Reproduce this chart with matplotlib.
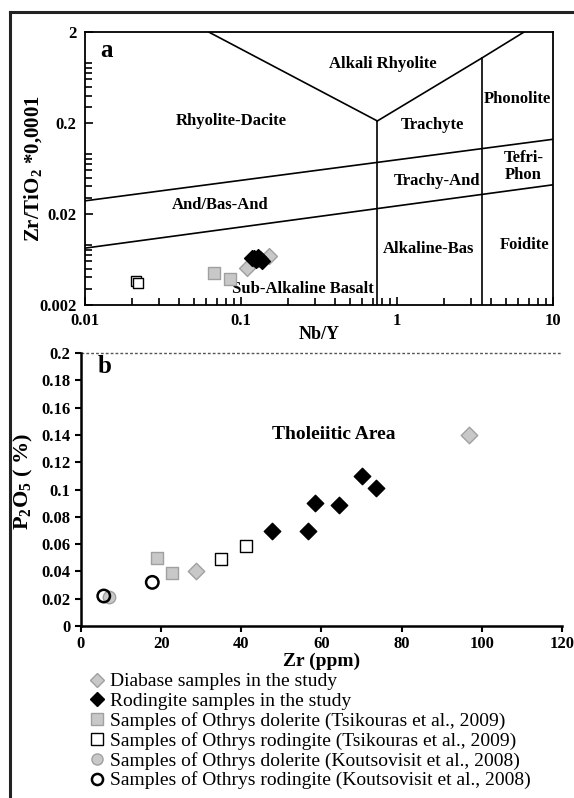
import matplotlib.pyplot as plt
import numpy as np
from matplotlib.lines import Line2D
from matplotlib.ticker import LogLocator, NullFormatter

plt.rcParams['font.family'] = ['Liberation Serif', 'DejaVu Serif']
plt.rcParams['mathtext.fontset'] = 'custom'
plt.rcParams['mathtext.rm'] = 'Liberation Serif'
plt.rcParams['mathtext.bf'] = 'Liberation Serif:bold'

# panel a : Nb/Y vs Zr/TiO2*0.0001
a_dia_x = [0.109, 0.151]
a_dia_y = [0.00506, 0.00691]
a_rod_x = [0.121, 0.129, 0.136, 0.125, 0.132, 0.118, 0.127]
a_rod_y = [0.00652, 0.00668, 0.00608, 0.00625, 0.00640, 0.00660, 0.00645]
a_tdol_x = [0.0674, 0.0846]
a_tdol_y = [0.00453, 0.00389]
a_trod_x = [0.0211, 0.0218]
a_trod_y = [0.00367, 0.00350]

# panel b : Zr vs P2O5
b_dia_x = [28.7, 96.9]
b_dia_y = [0.040, 0.140]
b_rod_x = [47.6, 56.6, 58.5, 64.5, 70.0, 73.6]
b_rod_y = [0.070, 0.070, 0.090, 0.089, 0.110, 0.101]
b_tdol_x = [19.0, 22.7]
b_tdol_y = [0.050, 0.039]
b_trod_x = [34.9, 41.2]
b_trod_y = [0.049, 0.059]
b_kdol_x = [7.1]
b_kdol_y = [0.021]
b_krod_x = [5.7, 17.8]
b_krod_y = [0.022, 0.032]

legend_labels = ['Diabase samples in the study',
                 'Rodingite samples in the study',
                 'Samples of Othrys dolerite (Tsikouras et al., 2009)',
                 'Samples of Othrys rodingite (Tsikouras et al., 2009)',
                 'Samples of Othrys dolerite (Koutsovisit et al., 2008)',
                 'Samples of Othrys rodingite (Koutsovisit et al., 2008)']

# field boundaries (Winchester & Floyd)
v_left = ([0.062, 0.75], [2, 0.21])
v_right = ([0.75, 3.5, 6.56], [0.21, 1.03, 2])
upper_line = ([0.01, 10], [0.0278, 0.132])
lower_line = ([0.01, 10], [0.0084, 0.0417])
vert1 = ([0.75, 0.75], [0.002, 0.21])
vert2 = ([3.5, 3.5], [0.002, 1.03])

fields = [('Alkali Rhyolite', 0.81, 0.88), ('Rhyolite-Dacite', 0.087, 0.21),
          ('Phonolite', 5.9, 0.37), ('Trachyte', 1.68, 0.19),
          ('Tefri-\nPhon', 6.5, 0.066), ('Trachy-And', 1.8, 0.046),
          ('And/Bas-And', 0.074, 0.025), ('Alkaline-Bas', 1.59, 0.0082),
          ('Foidite', 6.6, 0.0091), ('Sub-Alkaline Basalt', 0.25, 0.003)]

gray = '#c8c8c8'
gedge = '#a0a0a0'
styles = [dict(marker='D', c=gray, edgecolors=gedge),
          dict(marker='D', c='black', edgecolors='black'),
          dict(marker='s', c=gray, edgecolors=gedge),
          dict(marker='s', c='white', edgecolors='black'),
          dict(marker='o', c=gray, edgecolors=gedge),
          dict(marker='o', c='none', edgecolors='black')]

fig = plt.figure(figsize=(5.74, 7.98), dpi=100)

# outer frame (top and left)
fig.add_artist(Line2D([10/574, 1], [1 - 12/798, 1 - 12/798], color='#222222', lw=2.2, transform=fig.transFigure))
fig.add_artist(Line2D([10/574, 10/574], [0, 1 - 12/798], color='#222222', lw=2.2, transform=fig.transFigure))

# ---- panel a
ax1 = fig.add_axes([0.148, 0.618, 0.815, 0.342])
ax1.set_xscale('log')
ax1.set_yscale('log')
ax1.set_xlim(0.01, 10)
ax1.set_ylim(0.002, 2)
for xs, ys in [v_left, v_right, upper_line, lower_line, vert1, vert2]:
    ax1.plot(xs, ys, color='black', lw=1.2)
for t, x, y in fields:
    ax1.text(x, y, t, ha='center', va='center', fontsize=12, fontweight='bold', linespacing=1.1)
ax1.text(0.0137, 1.25, 'a', ha='center', va='center', fontsize=18, fontweight='bold')

ax1.scatter(a_trod_x, a_trod_y, s=60, lw=1, zorder=3, **styles[3])
ax1.scatter(a_tdol_x, a_tdol_y, s=80, lw=1, zorder=3, **styles[2])
ax1.scatter(a_dia_x, a_dia_y, s=65, lw=1, zorder=3, **styles[0])
ax1.scatter(a_rod_x, a_rod_y, s=65, lw=1, zorder=4, **styles[1])

ax1.set_xticks([0.01, 0.1, 1, 10])
ax1.set_xticklabels(['0.01', '0.1', '1', '10'])
ax1.set_yticks([0.002, 0.02, 0.2, 2])
ax1.set_yticklabels(['0.002', '0.02', '0.2', '2'])
ax1.xaxis.set_minor_locator(LogLocator(base=10, subs=np.arange(2, 10), numticks=20))
ax1.yaxis.set_minor_locator(LogLocator(base=10, subs=np.arange(2, 10), numticks=20))
ax1.xaxis.set_minor_formatter(NullFormatter())
ax1.yaxis.set_minor_formatter(NullFormatter())
ax1.tick_params(which='both', direction='in', labelsize=12, width=1.2)
ax1.tick_params(which='major', length=6, pad=6)
ax1.tick_params(which='minor', length=5)
for lab in ax1.get_xticklabels() + ax1.get_yticklabels():
    lab.set_fontweight('bold')
for sp in ax1.spines.values():
    sp.set_linewidth(1.3)
ax1.set_xlabel('Nb/Y', fontsize=13, fontweight='bold', labelpad=-2)
ax1.set_ylabel(r'Zr/TiO$_\mathbf{2}$ *0,0001', fontsize=15, fontweight='bold')
ax1.yaxis.set_label_coords(-0.086, 0.5)

# ---- panel b
ax2 = fig.add_axes([0.141, 0.2155, 0.838, 0.342])
ax2.set_xlim(0, 120)
ax2.set_ylim(0, 0.2)
ax2.axhline(0.2, color='#555555', lw=1, ls=(0, (2, 1.5)), clip_on=False)
ax2.spines['top'].set_visible(False)
ax2.spines['right'].set_visible(False)
for sp in ['left', 'bottom']:
    ax2.spines[sp].set_linewidth(1.8)
ax2.text(63, 0.14, 'Tholeiitic Area', ha='center', va='center', fontsize=14, fontweight='bold')
ax2.text(6, 0.19, 'b', ha='center', va='center', fontsize=18, fontweight='bold')

ax2.scatter(b_kdol_x, b_kdol_y, s=80, lw=1, zorder=3, **styles[4])
ax2.scatter(b_krod_x, b_krod_y, s=80, lw=1.8, zorder=4, **styles[5])
ax2.scatter(b_tdol_x, b_tdol_y, s=80, lw=1, zorder=3, **styles[2])
ax2.scatter(b_trod_x, b_trod_y, s=70, lw=1, zorder=3, **styles[3])
ax2.scatter(b_dia_x, b_dia_y, s=70, lw=1, zorder=3, **styles[0])
ax2.scatter(b_rod_x, b_rod_y, s=70, lw=1, zorder=3, **styles[1])

ax2.set_xticks(np.arange(0, 121, 20))
ax2.set_yticks([0, 0.02, 0.04, 0.06, 0.08, 0.1, 0.12, 0.14, 0.16, 0.18, 0.2])
ax2.set_yticklabels(['0', '0.02', '0.04', '0.06', '0.08', '0.1', '0.12', '0.14', '0.16', '0.18', '0.2'])
ax2.tick_params(direction='out', length=4, width=1.5, labelsize=12)
for lab in ax2.get_xticklabels() + ax2.get_yticklabels():
    lab.set_fontweight('bold')
ax2.set_xlabel('Zr (ppm)', fontsize=14, fontweight='bold', labelpad=0)
ax2.set_ylabel(r'P$_\mathbf{2}$O$_\mathbf{5}$ ( %)', fontsize=16, fontweight='bold')
ax2.yaxis.set_label_coords(-0.095, 0.53)

# legend
handles = []
for st, lw in zip(styles, [1, 1, 1, 1, 1, 1.8]):
    handles.append(Line2D([], [], ls='none', marker=st['marker'], markersize=8 if st['marker'] != 'D' else 7,
                          markerfacecolor=st['c'], markeredgecolor=st['edgecolors'], markeredgewidth=lw))
fig.legend(handles, legend_labels, loc='upper left', bbox_to_anchor=(0.158, 0.157), frameon=False,
           fontsize=14, handlelength=0.6, handletextpad=0.4, labelspacing=0.1, borderpad=0, borderaxespad=0)

fig.savefig('out.png', dpi=100)
